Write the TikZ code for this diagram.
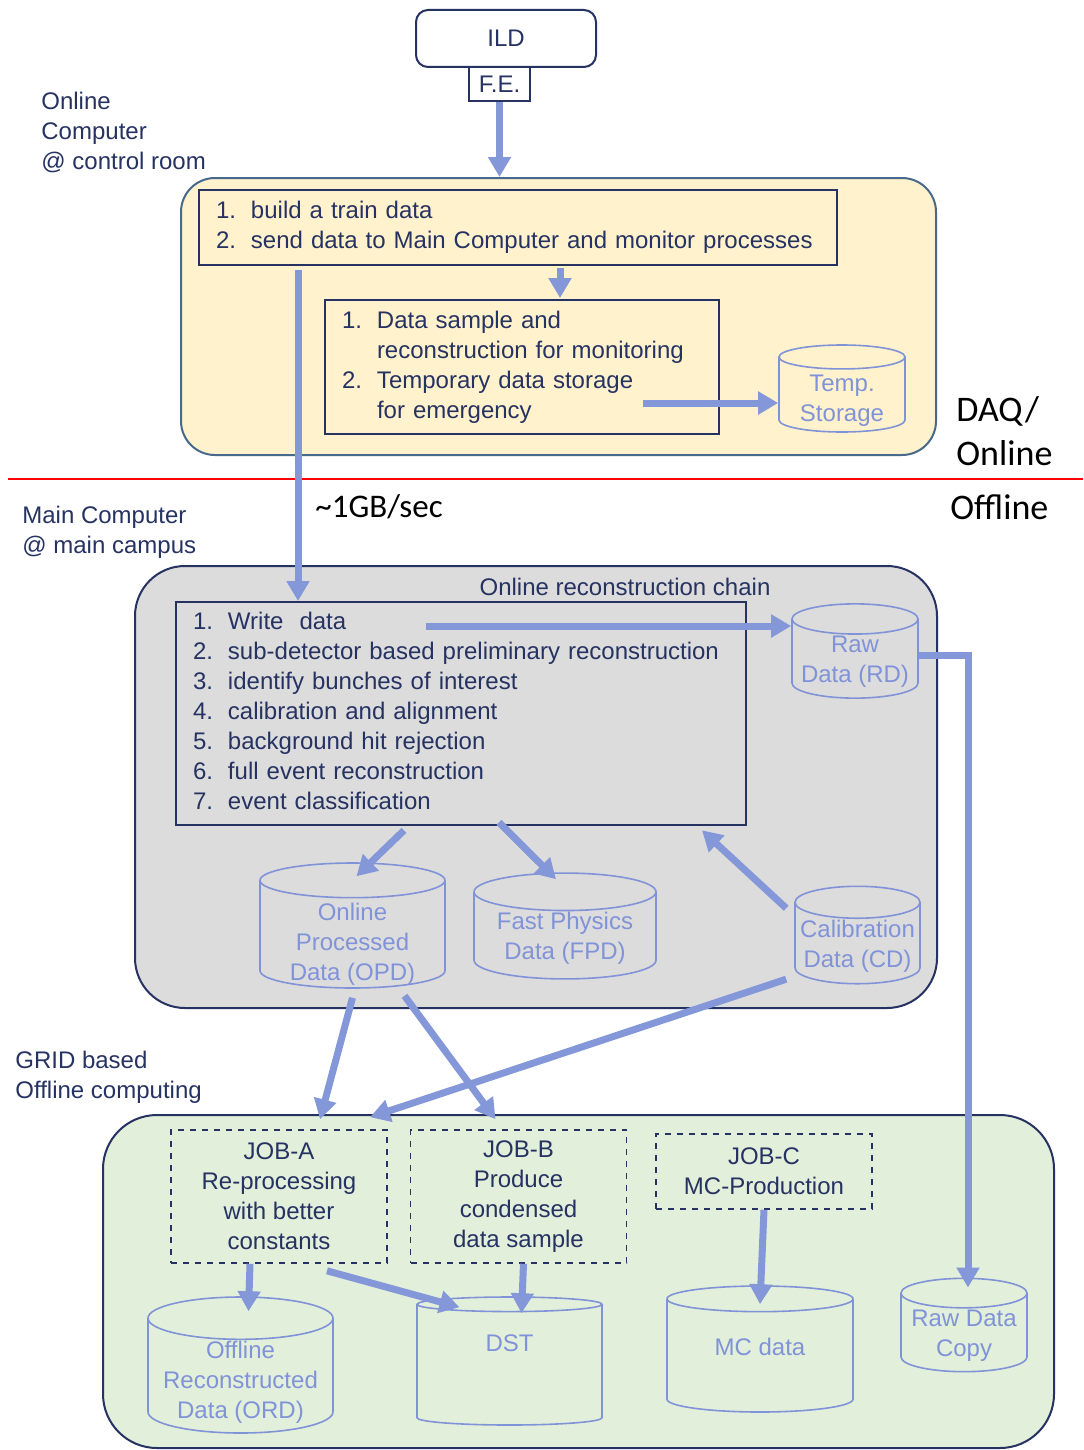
\documentclass[tikz,border=0pt]{standalone}
\usepackage{fontspec}
\setmainfont{Liberation Sans}
\newfontfamily\calfont{Carlito}
\usetikzlibrary{shapes.geometric, arrows.meta, calc}
\definecolor{navy}{HTML}{263262}
\definecolor{arrowblue}{HTML}{8497D9}
\definecolor{dbblue}{HTML}{8193D8}
\definecolor{onlinefill}{HTML}{FFF2CC}
\definecolor{onlineedge}{HTML}{46698C}
\definecolor{recfill}{HTML}{DCDCDC}
\definecolor{gridfill}{HTML}{E2EFDA}
\newcommand{\dbtext}[2]{\raisebox{#1}[0pt][0pt]{\begin{tabular}{@{}c@{}}#2\end{tabular}}}
\tikzstyle{every node} = [font=\fontsize{12}{15}\selectfont]
\tikzstyle{zone} = [rectangle, draw=navy, line width=1pt]
\tikzstyle{listbox} = [rectangle, draw=navy, line width=1pt, inner xsep=8.5pt, align=left, text=navy, anchor=north west]
\tikzstyle{jobbox} = [rectangle, dashed, draw=navy, line width=0.8pt, align=center, text=navy, minimum width=108pt]
\tikzstyle{db} = [cylinder, shape border rotate=90, aspect=0.26, draw=dbblue, line width=0.8pt, text=dbblue, align=center, inner xsep=2pt, inner ysep=0.5pt, anchor=shape center]
\tikzstyle{zonelabel} = [anchor=west, align=left, text=navy, inner sep=0pt]
\tikzstyle{biglabel} = [anchor=west, align=left, inner sep=0pt, font=\calfont\fontsize{18}{22}\selectfont]
\tikzstyle{arrow} = [line width=3.5pt, color=arrowblue, -{Triangle[width=11pt,length=10pt]}]

\begin{document}
\begin{tikzpicture}[x=0.5pt, y=-0.5pt]
\useasboundingbox (0,0) rectangle (1083,1450);

% detector
\node (ild) [rectangle, rounded corners=6pt, draw=navy, line width=1pt, text=navy, minimum width=90pt, minimum height=28.5pt] at (506,38.5) {ILD};
\node (fe) [rectangle, draw=navy, line width=1pt, text=navy, minimum width=30.5pt, minimum height=17pt, inner sep=1pt] at (499.5,84) {F.E.};

% DAQ / online part
\node (onl) [zone, rounded corners=17pt, draw=onlineedge, fill=onlinefill, minimum width=377.5pt, minimum height=138.5pt] at (558.5,316.5) {};
\node (onlbl) [zonelabel] at (41,132) {Online\\Computer\\@ control room};
\node (tasks) [listbox, minimum width=319pt, minimum height=37.5pt, text width=302pt] at (198,189)
  {\begin{tabular}{@{}p{17.5pt}@{}l@{}}1. & build a train data\\2. & send data to Main Computer and monitor processes\end{tabular}};
\node (mon) [listbox, minimum width=197pt, minimum height=67pt, text width=180pt] at (324,299)
  {\begin{tabular}{@{}p{17.5pt}@{}l@{}}1. & Data sample and\\ & reconstruction for monitoring\\2. & Temporary data storage\\ & for emergency\end{tabular}};
\node (tmp) [db, minimum width=63pt, minimum height=43.5pt] at (842,388.5) {\dbtext{-5pt}{Temp.\\Storage}};

\draw [arrow] (fe.south) -- (fe.south |- onl.north);
\draw [arrow] ($(tasks.south west)+(362,2)$) -- ($(mon.north west)+(236,-1)$);
\coordinate (monout) at ($(mon.north west)+(319,104)$);
\draw [arrow] (monout) -- (monout -| tmp.west);

% boundary
\draw [red, line width=1.2pt] (8,479) -- (1083,479);
\node (daq) [biglabel] at (956,431) {DAQ/\\Online};
\node (off) [biglabel] at (950,507) {Offline};
\node (rate) [biglabel, font=\calfont\fontsize{16.5}{20}\selectfont] at (315,507) {\textasciitilde1GB/sec};

% main computer part
\node (rec) [zone, rounded corners=25pt, fill=recfill, minimum width=401pt, minimum height=221pt] at (536,787) {};
\node (reclbl) [zonelabel] at (22,532) {Main Computer\\@ main campus};
\node (chain) [text=navy, inner sep=0pt] at (625,587) {Online reconstruction chain};
\node (steps) [listbox, minimum width=285pt, minimum height=111.5pt, text width=268pt] at (175,601)
  {\begin{tabular}{@{}p{17.5pt}@{}l@{}}1. & Write\ \ data\\2. & sub-detector based preliminary reconstruction\\3. & identify bunches of interest\\4. & calibration and alignment\\5. & background hit rejection\\6. & full event reconstruction\\7. & event classification\end{tabular}};
\node (rd) [db, minimum width=63pt, minimum height=39pt] at (855,651) {Raw\\Data (RD)};
\node (opd) [db, minimum width=92.5pt, minimum height=62.5pt] at (352.5,925.5) {\dbtext{-6.5pt}{Online\\Processed\\Data (OPD)}};
\node (fpd) [db, minimum width=91pt, minimum height=40pt] at (565,926) {Fast Physics\\Data (FPD)};
\node (cd) [db, minimum width=62.5pt, minimum height=43pt] at (857.5,935) {Calibration\\Data (CD)};

\draw [arrow] ($(tasks.south west)+(100,4)$) -- ($(steps.north west)+(123,0)$);
\coordinate (wrout) at ($(steps.north west)+(251,25)$);
\draw [arrow] (wrout) -- (wrout -| rd.west);
\draw [arrow] ($(steps.south)+(-57,4)$) -- ($(opd.north)+(4,14)$);
\draw [arrow] ($(steps.south)+(38,-4)$) -- ($(fpd.north)+(-9,7)$);
\draw [arrow] ($(cd.west)+(-8,-38)$) -- ($(steps.south east)+(-45,4)$);

% grid part
\node (grid) [zone, rounded corners=27pt, fill=gridfill, minimum width=475.5pt, minimum height=166.5pt] at (578.5,1281.5) {};
\node (gridlbl) [zonelabel] at (15,1077) {GRID based\\Offline computing};
\node (joba) [jobbox, minimum height=66.5pt] at (279,1196.5) {JOB-A\\Re-processing\\with better\\constants};
\node (jobb) [jobbox, minimum height=66.5pt] at (518.5,1196.5) {JOB-B\\Produce\\condensed\\data sample};
\node (jobc) [jobbox, minimum height=37.5pt] at (764,1171.5) {JOB-C\\MC-Production};
\node (ord) [db, minimum width=92.5pt, minimum height=68pt] at (240.5,1365) {\dbtext{-4.5pt}{Offline\\Reconstructed\\Data (ORD)}};
\node (dst) [db, minimum width=92.5pt, minimum height=64pt] at (509.5,1361) {\dbtext{7.5pt}{DST}};
\node (mc) [db, minimum width=93pt, minimum height=63pt] at (760,1349) {\dbtext{1pt}{MC data}};
\node (rdc) [db, minimum width=63pt, minimum height=43pt] at (964,1325) {Raw Data\\Copy};

\draw [arrow] ($(opd.south)+(0,9)$) -- ($(joba.north)+(41,-10)$);
\draw [arrow] ($(opd.south)+(52,7)$) -- ($(jobb.north)+(-23,-10)$);
\draw [arrow] ($(cd.west)+(-8,33)$) -- ($(joba.north)+(91,-12)$);
\draw [arrow] ($(rd.east)+(0,-6)$) -| ($(rdc.north)+(4,10)$);
\draw [arrow] ($(joba.south)+(-29,0)$) -- ($(ord.north)+(8,15)$);
\draw [arrow] ($(joba.south)+(48,7)$) -- ($(dst.north)+(-50,11)$);
\draw [arrow] ($(jobb.south)+(5,0)$) -- ($(dst.north)+(12,17)$);
\draw [arrow] (jobc.south) -- ($(mc.north)+(0,19)$);

\end{tikzpicture}
\end{document}
